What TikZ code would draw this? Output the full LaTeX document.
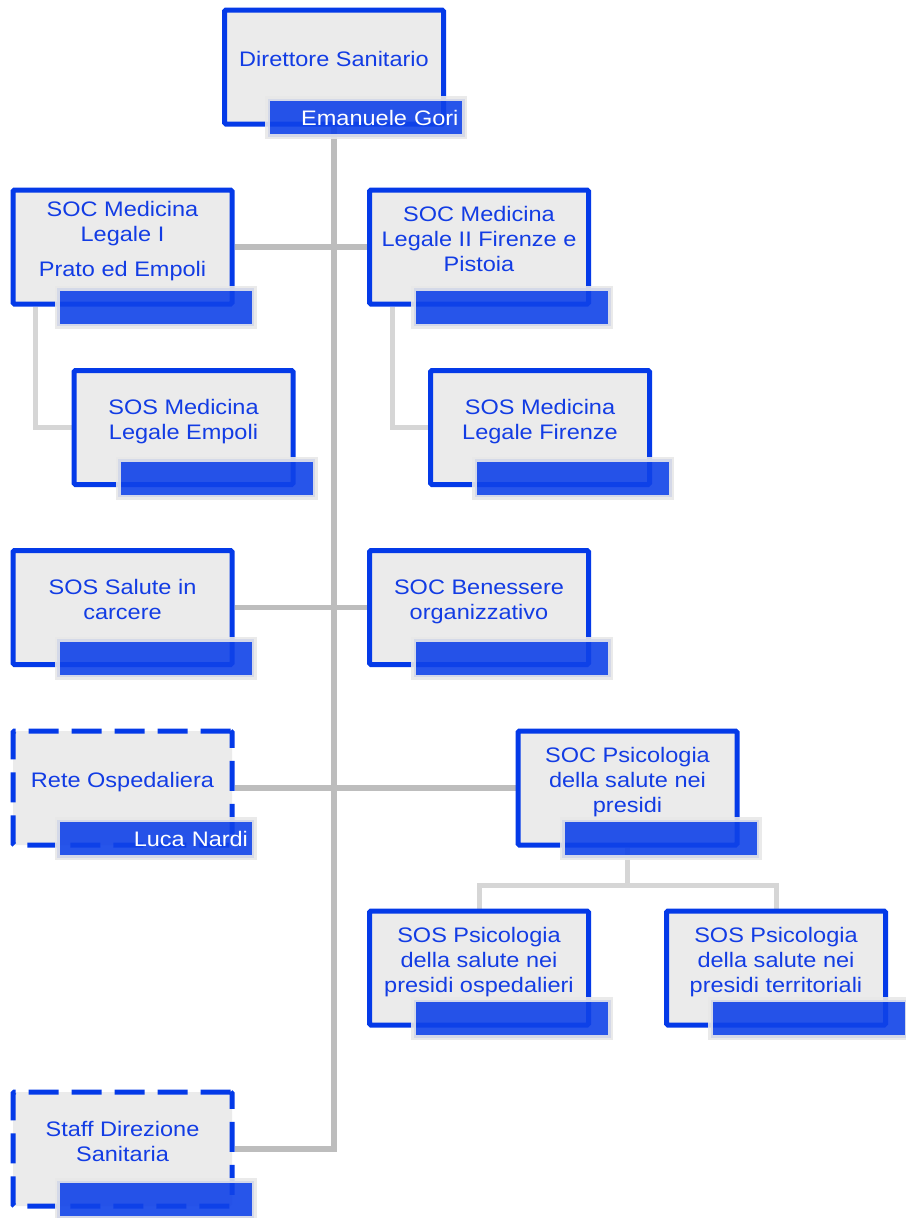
\documentclass[tikz,border=0pt]{standalone}
\usepackage{fontspec}
\setmainfont{Liberation Sans}[FakeStretch=1.12]
\usetikzlibrary{positioning,backgrounds}
\definecolor{boxblue}{RGB}{4,58,232}
\definecolor{boxgray}{RGB}{235,235,235}
\definecolor{txtblue}{RGB}{18,60,228}
\definecolor{barblue}{RGB}{16,66,232}
\definecolor{barrim}{RGB}{232,232,232}
\definecolor{trunkgray}{RGB}{189,189,189}
\definecolor{twiggray}{RGB}{214,214,214}
\newcommand{\lines}[1]{\begin{tabular}{@{}c@{}}#1\end{tabular}}

\begin{document}
\begin{tikzpicture}[x=1pt, y=-1pt, font=\fontsize{21}{25}\selectfont,
  unit/.style={draw=boxblue, line width=5pt, rounded corners=1.5pt, fill=boxgray, text=txtblue,
    minimum width=219pt, minimum height=114pt, text height=8pt, text depth=8pt, inner sep=0pt},
  openunit/.style={unit, dash pattern=on 30pt off 13pt},
  bar/.style={draw=barrim, fill=barblue, line width=5pt, opacity=.9, text opacity=1, text=white,
    minimum height=38pt, text width=185pt, inner xsep=6pt, align=right},
  mainline/.style={draw=trunkgray, line width=5.5pt},
  subline/.style={draw=twiggray, line width=5pt}]
  \useasboundingbox (0,0) rectangle (905,1218);

  % Units
  \node[unit] (ds) at (334,67) {\lines{Direttore Sanitario}};
  \node[bar] (dsbar) at ([shift={(32,50.5)}]ds.center) {Emanuele Gori};

  \node[unit] (soc1) at (122.5,247) {\lines{SOC Medicina\\Legale I\\[10pt]Prato ed Empoli}};
  \node[bar] (soc1bar) at ([shift={(33,60)}]soc1.center) {};
  \node[unit] (soc2) at (479,247) {\lines{SOC Medicina\\Legale II Firenze e\\Pistoia}};
  \node[bar] (soc2bar) at ([shift={(33,60)}]soc2.center) {};

  \node[unit] (sos1) at (183.5,427.5) {\lines{SOS Medicina\\Legale Empoli}};
  \node[bar] (sos1bar) at ([shift={(33,50.5)}]sos1.center) {};
  \node[unit] (sos2) at (540,427.5) {\lines{SOS Medicina\\Legale Firenze}};
  \node[bar] (sos2bar) at ([shift={(33,50.5)}]sos2.center) {};

  \node[unit] (sal) at (122.5,607.5) {\lines{SOS Salute in\\carcere}};
  \node[bar] (salbar) at ([shift={(33,50.5)}]sal.center) {};
  \node[unit] (ben) at (479,607.5) {\lines{SOC Benessere\\organizzativo}};
  \node[bar] (benbar) at ([shift={(33,50.5)}]ben.center) {};

  \node[openunit] (rete) at (122.5,788) {\lines{Rete Ospedaliera}};
  \node[bar] (retebar) at ([shift={(33,50.5)}]rete.center) {Luca Nardi};
  \node[unit] (psi) at (627.5,788) {\lines{SOC Psicologia\\della salute nei\\presidi}};
  \node[bar] (psibar) at ([shift={(33,50.5)}]psi.center) {};

  \node[unit] (pso) at (479,968) {\lines{SOS Psicologia\\della salute nei\\presidi ospedalieri}};
  \node[bar] (psobar) at ([shift={(33,50.5)}]pso.center) {};
  \node[unit] (pst) at (776,968) {\lines{SOS Psicologia\\della salute nei\\presidi territoriali}};
  \node[bar] (pstbar) at ([shift={(33,50.5)}]pst.center) {};

  \node[openunit] (staff) at (122.5,1149) {\lines{Staff Direzione\\Sanitaria}};
  \node[bar] (staffbar) at ([shift={(33,50.5)}]staff.center) {};

  % Connectors
  \begin{scope}[on background layer]
    \draw[mainline] (ds.south) -- (ds.south |- staff.east) -- (staff.east);
    \draw[mainline] (soc1) -- (soc2);
    \draw[mainline] (sal) -- (ben);
    \draw[mainline] (rete) -- (psi);
    \draw[subline] ([xshift=25pt]soc1.south west) |- (sos1.west);
    \draw[subline] ([xshift=25pt]soc2.south west) |- (sos2.west);
    \draw[subline] (psi.south) -- ++(0,38) -| (pso.north);
    \draw[subline] (psi.south) -- ++(0,38) -| (pst.north);
  \end{scope}
\end{tikzpicture}
\end{document}
